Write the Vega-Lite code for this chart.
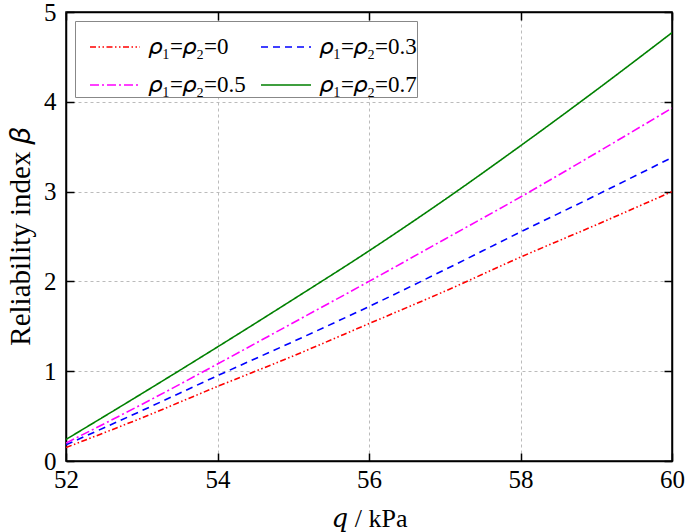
{
  "$schema": "https://vega.github.io/schema/vega-lite/v6.json",
  "width": 606,
  "height": 449,
  "autosize": {"type": "none"},
  "padding": {"left": 66, "top": 12, "right": 13, "bottom": 71},
  "background": "white",
  "config": {
    "font": "Liberation Serif",
    "view": {"stroke": "black", "strokeWidth": 1.5},
    "axis": {
      "labelFont": "Liberation Serif",
      "titleFont": "Liberation Serif",
      "labelFontSize": 25,
      "titleFontSize": 26,
      "titleFontWeight": "normal",
      "labelColor": "black",
      "titleColor": "black",
      "domainColor": "black",
      "domainWidth": 1.5,
      "tickColor": "black",
      "tickWidth": 1.5,
      "tickSize": -8,
      "gridColor": "#bbbbbb",
      "gridDash": [3, 3],
      "gridWidth": 1,
      "labelFlush": false,
      "labelOverlap": false
    }
  },
  "data": {
    "values": [
      {"q": 52, "beta": 0.15, "s": "0"},
      {"q": 53, "beta": 0.48, "s": "0"},
      {"q": 54, "beta": 0.83, "s": "0"},
      {"q": 55, "beta": 1.17, "s": "0"},
      {"q": 56, "beta": 1.53, "s": "0"},
      {"q": 57, "beta": 1.89, "s": "0"},
      {"q": 58, "beta": 2.27, "s": "0"},
      {"q": 59, "beta": 2.63, "s": "0"},
      {"q": 60, "beta": 3.0, "s": "0"},
      {"q": 52, "beta": 0.18, "s": "0.3"},
      {"q": 53, "beta": 0.56, "s": "0.3"},
      {"q": 54, "beta": 0.95, "s": "0.3"},
      {"q": 55, "beta": 1.33, "s": "0.3"},
      {"q": 56, "beta": 1.72, "s": "0.3"},
      {"q": 57, "beta": 2.13, "s": "0.3"},
      {"q": 58, "beta": 2.55, "s": "0.3"},
      {"q": 59, "beta": 2.96, "s": "0.3"},
      {"q": 60, "beta": 3.38, "s": "0.3"},
      {"q": 52, "beta": 0.2, "s": "0.5"},
      {"q": 53, "beta": 0.63, "s": "0.5"},
      {"q": 54, "beta": 1.08, "s": "0.5"},
      {"q": 55, "beta": 1.54, "s": "0.5"},
      {"q": 56, "beta": 2.0, "s": "0.5"},
      {"q": 57, "beta": 2.47, "s": "0.5"},
      {"q": 58, "beta": 2.94, "s": "0.5"},
      {"q": 59, "beta": 3.43, "s": "0.5"},
      {"q": 60, "beta": 3.93, "s": "0.5"},
      {"q": 52, "beta": 0.24, "s": "0.7"},
      {"q": 53, "beta": 0.75, "s": "0.7"},
      {"q": 54, "beta": 1.27, "s": "0.7"},
      {"q": 55, "beta": 1.8, "s": "0.7"},
      {"q": 56, "beta": 2.34, "s": "0.7"},
      {"q": 57, "beta": 2.91, "s": "0.7"},
      {"q": 58, "beta": 3.51, "s": "0.7"},
      {"q": 59, "beta": 4.13, "s": "0.7"},
      {"q": 60, "beta": 4.77, "s": "0.7"}
    ]
  },
  "layer": [
    {
      "mark": {"type": "line", "strokeWidth": 1.6, "clip": true, "interpolate": "monotone"},
      "encoding": {
        "x": {
          "field": "q", "type": "quantitative",
          "scale": {"domain": [52, 60], "nice": false, "zero": false},
          "axis": {"values": [52, 54, 56, 58, 60], "title": "𝑞 / kPa", "titlePadding": 13, "labelPadding": 14, "format": "d", "labelFont": "Liberation Serif", "titleFont": "Liberation Serif, DejaVu Serif"}
        },
        "y": {
          "field": "beta", "type": "quantitative",
          "scale": {"domain": [0, 5], "nice": false},
          "axis": {"values": [0, 1, 2, 3, 4, 5], "title": "Reliability index 𝛽", "titleFontSize": 29, "titlePadding": 8, "labelPadding": 18, "format": "d", "labelFont": "Liberation Serif", "titleFont": "Liberation Serif, DejaVu Serif"}
        },
        "color": {
          "field": "s", "type": "nominal",
          "scale": {"domain": ["0", "0.3", "0.5", "0.7"], "range": ["#ff0000", "#0000ff", "#ff00ff", "#008000"]},
          "legend": {
            "title": null,
            "orient": "top-left",
            "offset": 9,
            "columns": 2,
            "direction": "horizontal",
            "symbolType": "stroke",
            "symbolSize": 2500,
            "symbolStrokeWidth": 1.6,
            "symbolOffset": 14,
            "labelFont": "Liberation Serif, DejaVu Serif",
            "labelFontSize": 23,
            "labelColor": "black",
            "labelExpr": "datum.value == '0' ? '𝜌₁=𝜌₂=0' : datum.value == '0.3' ? '𝜌₁=𝜌₂=0.3\u2003\u2003' : datum.value == '0.5' ? '𝜌₁=𝜌₂=0.5' : '𝜌₁=𝜌₂=0.7\u2003\u2003'",
            "strokeColor": "#888888",
            "fillColor": "white",
            "padding": 0,
            "rowPadding": -13,
            "columnPadding": 0,
            "labelOffset": 8
          }
        },
        "strokeDash": {
          "field": "s", "type": "nominal",
          "scale": {"domain": ["0", "0.3", "0.5", "0.7"], "range": [[6, 2.5, 1.5, 2.5, 1.5, 2.5], [7, 5], [9, 3, 2, 3], [1, 0]]},
          "legend": null
        }
      }
    },
    {
      "mark": {"type": "point", "opacity": 0},
      "encoding": {
        "x": {"field": "q", "type": "quantitative", "axis": {"orient": "top", "values": [52, 54, 56, 58, 60], "labels": false, "title": null, "grid": false}},
        "y": {"field": "beta", "type": "quantitative", "axis": {"orient": "right", "values": [0, 1, 2, 3, 4, 5], "labels": false, "title": null, "grid": false}}
      }
    }
  ],
  "resolve": {"axis": {"x": "independent", "y": "independent"}}
}
